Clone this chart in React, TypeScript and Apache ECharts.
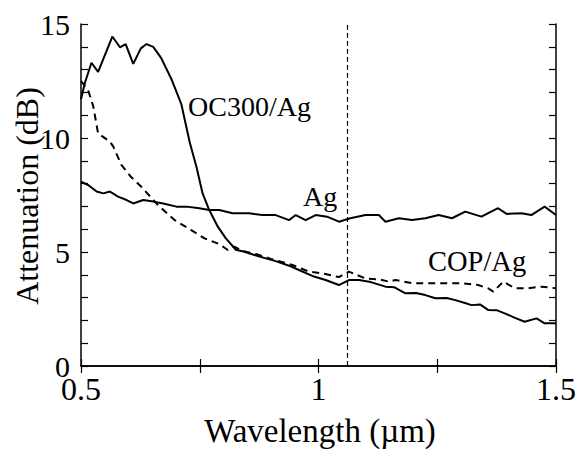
import React, { useEffect, useRef } from "react";
import * as echarts from "echarts";

const wavelengthTicks = [0.5, 1, 1.5];
const attenuationTicks = [0, 5, 10, 15];
const cutoffWavelength = 1.065;

const oc300Ag: [number, number][] = [
  [0.5, 11.7], [0.508, 12.4], [0.522, 13.3], [0.536, 12.9], [0.566, 14.45], [0.582, 13.98],
  [0.594, 14.12], [0.61, 13.25], [0.626, 13.93], [0.638, 14.12], [0.652, 14.0], [0.669, 13.5],
  [0.69, 12.6], [0.711, 11.5], [0.729, 9.8], [0.743, 8.74], [0.756, 7.57], [0.77, 6.84],
  [0.788, 6.11], [0.805, 5.6], [0.826, 5.1], [0.844, 5.01], [0.865, 4.87], [0.889, 4.72],
  [0.91, 4.6], [0.938, 4.4], [0.96, 4.2], [0.987, 3.95], [1.015, 3.77], [1.043, 3.55],
  [1.064, 3.77], [1.085, 3.77], [1.11, 3.68], [1.141, 3.48], [1.16, 3.45], [1.183, 3.19],
  [1.205, 3.2], [1.225, 3.11], [1.246, 2.97], [1.27, 2.98], [1.288, 2.89], [1.31, 2.75],
  [1.322, 2.67], [1.34, 2.7], [1.357, 2.46], [1.375, 2.45], [1.392, 2.31], [1.415, 2.1],
  [1.434, 1.94], [1.459, 2.09], [1.476, 1.87], [1.5, 1.87],
];

const copAg: [number, number][] = [
  [0.5, 12.5], [0.515, 12.1], [0.526, 11.37], [0.536, 10.2], [0.561, 9.84], [0.568, 9.62],
  [0.585, 8.82], [0.605, 8.3], [0.627, 7.86], [0.662, 7.06], [0.697, 6.4], [0.732, 5.96],
  [0.76, 5.6], [0.791, 5.35], [0.809, 5.09], [0.823, 5.23], [0.84, 5.05], [0.87, 4.9],
  [0.9, 4.7], [0.945, 4.43], [0.98, 4.14], [1.008, 4.06], [1.043, 3.9], [1.064, 4.14],
  [1.099, 3.84], [1.127, 3.8], [1.148, 3.7], [1.162, 3.77], [1.197, 3.63], [1.253, 3.63],
  [1.301, 3.63], [1.336, 3.55], [1.357, 3.41], [1.368, 3.26], [1.389, 3.7], [1.413, 3.41],
  [1.441, 3.41], [1.469, 3.48], [1.5, 3.41],
];

const ag: [number, number][] = [
  [0.5, 8.08], [0.515, 7.94], [0.533, 7.65], [0.547, 7.57], [0.561, 7.65], [0.578, 7.43],
  [0.596, 7.28], [0.61, 7.13], [0.631, 7.28], [0.652, 7.21], [0.673, 7.13], [0.701, 6.99],
  [0.722, 6.99], [0.749, 6.92], [0.77, 6.84], [0.791, 6.84], [0.819, 6.7], [0.854, 6.7],
  [0.882, 6.62], [0.91, 6.62], [0.938, 6.4], [0.952, 6.62], [0.973, 6.4], [0.994, 6.62],
  [1.018, 6.55], [1.043, 6.33], [1.067, 6.48], [1.099, 6.62], [1.127, 6.62], [1.141, 6.33],
  [1.169, 6.48], [1.197, 6.4], [1.225, 6.48], [1.253, 6.62], [1.281, 6.48], [1.309, 6.77],
  [1.343, 6.55], [1.378, 6.92], [1.396, 6.67], [1.427, 6.7], [1.448, 6.62], [1.476, 6.99],
  [1.5, 6.62],
];

const FONT = "Liberation Serif";

export default function App() {
  const ref = useRef<HTMLDivElement>(null);
  useEffect(() => {
    if (!ref.current) return;
    const chart = echarts.init(ref.current, null, { renderer: "svg" });
    const axisCommon = {
      axisLine: { show: true, lineStyle: { color: "#000", width: 1.5 } },
      axisTick: { show: true, inside: true, length: 7, lineStyle: { color: "#000", width: 1.2 } },
      splitLine: { show: false },
    };
    const txt = (size: number) => ({ fill: "#000", fontFamily: FONT, fontSize: size });
    chart.setOption({
      animation: false,
      backgroundColor: "#fff",
      grid: { left: 81, right: 21, top: 24, bottom: 83, containLabel: false },
      xAxis: [
        {
          type: "value", min: 0.5, max: 1.5, interval: 0.25, position: "bottom",
          ...axisCommon,
          axisLabel: {
            show: true, margin: 11, lineHeight: 24, color: "#000", fontFamily: FONT, fontSize: 32,
            formatter: (v: number) => (wavelengthTicks.some((t) => Math.abs(t - v) < 1e-6) ? String(v) : ""),
          },
        },
        {
          type: "value", min: 0.5, max: 1.5, interval: 0.25, position: "top",
          ...axisCommon, axisLabel: { show: false },
        },
      ],
      yAxis: [
        {
          type: "value", min: 0, max: 15, interval: 1, position: "left",
          ...axisCommon,
          axisLabel: {
            show: true, margin: 11, lineHeight: 22, color: "#000", fontFamily: FONT, fontSize: 30,
            formatter: (v: number) => (attenuationTicks.includes(v) ? String(v) : ""),
          },
        },
        {
          type: "value", min: 0, max: 15, interval: 1, position: "right",
          ...axisCommon, axisLabel: { show: false },
        },
      ],
      series: [
        {
          name: "OC300/Ag", type: "line", data: oc300Ag, showSymbol: false,
          lineStyle: { color: "#000", width: 2 },
          markLine: {
            silent: true, symbol: "none", label: { show: false },
            lineStyle: { color: "#000", width: 1.2, type: [5, 3] },
            data: [{ xAxis: cutoffWavelength }],
          },
        },
        {
          name: "COP/Ag", type: "line", data: copAg, showSymbol: false,
          lineStyle: { color: "#000", width: 2, type: [7, 5] },
        },
        {
          name: "Ag", type: "line", data: ag, showSymbol: false,
          lineStyle: { color: "#000", width: 2 },
        },
      ],
      graphic: [
        { type: "text", left: 188, top: 92, style: { text: "OC300/Ag", ...txt(28) } },
        { type: "text", left: 303, top: 182, style: { text: "Ag", ...txt(28) } },
        { type: "text", left: 428, top: 247, style: { text: "COP/Ag", ...txt(28.5) } },
        {
          type: "text", x: 320, y: 431,
          style: { text: "Wavelength (µm)", ...txt(33), align: "center", verticalAlign: "middle" },
        },
        {
          type: "text", x: 27, y: 196, rotation: Math.PI / 2,
          style: { text: "Attenuation (dB)", ...txt(32), align: "center", verticalAlign: "middle" },
        },
      ],
    });
    return () => chart.dispose();
  }, []);
  return <div ref={ref} style={{ width: 579, height: 449, position: "absolute", left: 0, top: 0 }} />;
}
